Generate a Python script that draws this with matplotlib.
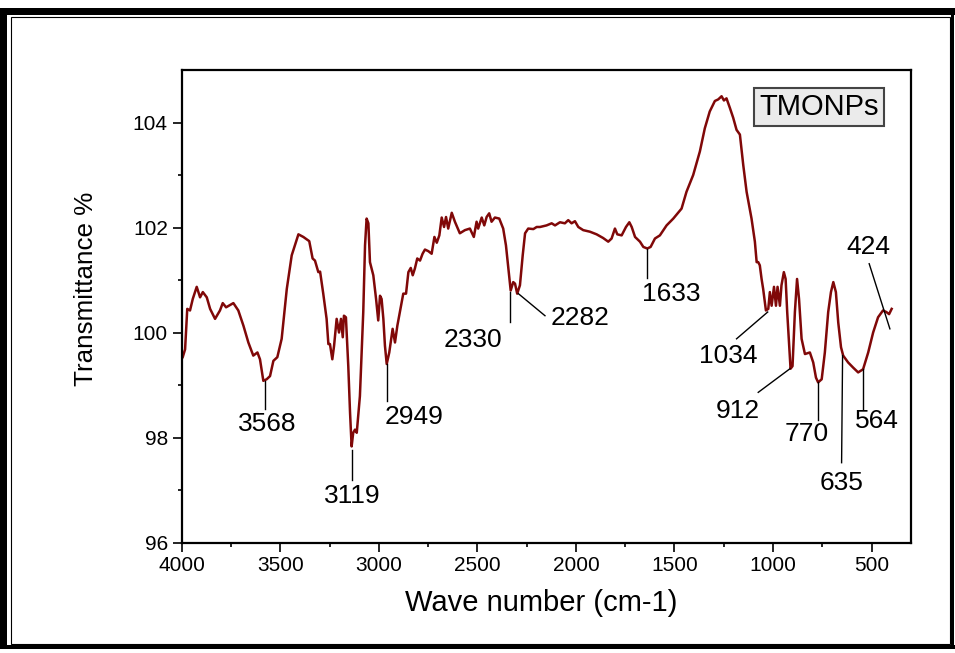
import matplotlib.pyplot as plt
from matplotlib.patches import Rectangle

plt.rcParams['font.family'] = ['Liberation Sans', 'DejaVu Sans']

# FTIR spectrum
wavenumber = [4000, 3995, 3983, 3972, 3958, 3944, 3924, 3907, 3893, 3873, 3856,
              3831, 3806, 3792, 3775, 3738, 3713, 3687, 3662, 3637, 3616, 3603,
              3586, 3569, 3552, 3535, 3515, 3493, 3467, 3442, 3408, 3383, 3353,
              3336, 3324, 3307, 3298, 3282, 3265, 3256, 3248, 3236, 3227, 3214,
              3202, 3192, 3183, 3177, 3167, 3155, 3146, 3138, 3130, 3121, 3112,
              3096, 3079, 3070, 3062, 3053, 3045, 3028, 3014, 3003, 2994, 2986,
              2977, 2969, 2960, 2947, 2930, 2918, 2906, 2893, 2876, 2862, 2850,
              2838, 2828, 2817, 2805, 2791, 2778, 2766, 2749, 2732, 2718, 2706,
              2693, 2681, 2669, 2659, 2648, 2630, 2614, 2589, 2563, 2538, 2518,
              2504, 2496, 2478, 2465, 2453, 2440, 2428, 2411, 2389, 2369, 2355,
              2343, 2331, 2318, 2309, 2298, 2284, 2270, 2258, 2242, 2216, 2199,
              2182, 2149, 2123, 2106, 2081, 2056, 2039, 2022, 2005, 1988, 1963,
              1929, 1895, 1862, 1836, 1819, 1802, 1790, 1768, 1746, 1729, 1717,
              1700, 1675, 1658, 1638, 1621, 1599, 1574, 1540, 1506, 1464, 1439,
              1405, 1371, 1346, 1321, 1295, 1278, 1261, 1249, 1236, 1219, 1202,
              1185, 1168, 1151, 1134, 1109, 1092, 1083, 1075, 1067, 1058, 1050,
              1036, 1024, 1016, 1007, 995, 985, 977, 965, 957, 945, 936, 928,
              918, 911, 901, 889, 878, 868, 855, 838, 813, 796, 782, 771, 753,
              737, 720, 706, 694, 681, 669, 655, 644, 619, 593, 568, 543, 517,
              492, 467, 442, 425, 411, 398]
transmittance = [99.50, 99.53, 99.68, 100.45, 100.42, 100.64, 100.87, 100.67, 100.77,
                 100.67, 100.45, 100.26, 100.42, 100.56, 100.48, 100.56, 100.42,
                 100.13, 99.81, 99.56, 99.62, 99.49, 99.08, 99.11, 99.17, 99.46,
                 99.53, 99.88, 100.83, 101.47, 101.87, 101.82, 101.74, 101.41,
                 101.37, 101.15, 101.16, 100.74, 100.26, 99.78, 99.78, 99.49, 99.75,
                 100.26, 100.00, 100.26, 99.91, 100.32, 100.29, 99.36, 98.47, 97.83,
                 98.09, 98.15, 98.09, 98.79, 100.39, 101.66, 102.17, 102.08, 101.34,
                 101.09, 100.64, 100.23, 100.70, 100.64, 100.26, 99.75, 99.40, 99.62,
                 100.07, 99.81, 100.13, 100.39, 100.74, 100.74, 101.15, 101.23,
                 101.09, 101.22, 101.41, 101.37, 101.50, 101.58, 101.55, 101.50,
                 101.82, 101.71, 101.85, 102.19, 102.01, 102.20, 101.98, 102.28,
                 102.11, 101.89, 101.95, 101.98, 101.82, 102.11, 101.98, 102.19,
                 102.04, 102.20, 102.27, 102.11, 102.19, 102.17, 101.98, 101.66,
                 101.22, 100.80, 100.96, 100.93, 100.74, 100.90, 101.47, 101.89,
                 101.98, 101.97, 102.01, 102.01, 102.04, 102.08, 102.04, 102.10,
                 102.08, 102.14, 102.08, 102.12, 102.01, 101.95, 101.92, 101.87,
                 101.80, 101.73, 101.79, 101.98, 101.87, 101.85, 102.01, 102.10,
                 102.01, 101.82, 101.73, 101.63, 101.60, 101.63, 101.79, 101.85,
                 102.04, 102.17, 102.36, 102.68, 103.00, 103.45, 103.89, 104.21,
                 104.41, 104.44, 104.50, 104.42, 104.46, 104.28, 104.09, 103.86,
                 103.77, 103.19, 102.68, 102.17, 101.73, 101.34, 101.34, 101.28,
                 101.02, 100.83, 100.42, 100.45, 100.77, 100.51, 100.87, 100.51,
                 100.87, 100.51, 100.90, 101.15, 101.02, 100.39, 99.75, 99.31,
                 99.36, 100.39, 101.02, 100.64, 99.88, 99.59, 99.62, 99.43, 99.14,
                 99.05, 99.11, 99.62, 100.39, 100.77, 100.96, 100.77, 100.19, 99.72,
                 99.56, 99.43, 99.33, 99.24, 99.30, 99.62, 100.00, 100.29, 100.42,
                 100.39, 100.35, 100.45]

# peak labels
peak_labels = ['3568', '3119', '2949', '2330', '2282', '1633',
               '1034', '912', '770', '635', '564', '424']
# leader line (x0, y0, x1, y1) and text centre, in data units
leader_lines = [(3577, 99.08, 3577, 98.54), (3138, 97.77, 3138, 97.20),
                (2957, 99.40, 2957, 98.69), (2335, 100.77, 2335, 100.20),
                (2292, 100.74, 2157, 100.32), (1638, 101.60, 1638, 101.03),
                (1027, 100.39, 1185, 99.88), (914, 99.31, 1075, 98.86),
                (771, 99.05, 771, 98.34), (647, 99.56, 652, 97.52),
                (543, 99.30, 543, 98.54), (512, 101.31, 407, 100.07)]
text_pos = [(3566, 98.25), (3133, 96.88), (2820, 98.39), (2521, 99.86),
            (1980, 100.27), (1515, 100.74), (1227, 99.56), (1177, 98.50),
            (830, 98.06), (652, 97.13), (475, 98.31), (517, 101.63)]

fig = plt.figure(figsize=(9.55, 6.53), dpi=100)
ax = fig.add_axes([0.1903, 0.1692, 0.7636, 0.7236])

ax.plot(wavenumber, transmittance, color='#800808', lw=1.8)

for lab, (x0, y0, x1, y1), (tx, ty) in zip(peak_labels, leader_lines, text_pos):
    ax.plot([x0, x1], [y0, y1], color='black', lw=1.0)
    ax.text(tx, ty, lab, fontsize=19, ha='center', va='center')

ax.text(0.874, 0.922, 'TMONPs', transform=ax.transAxes, fontsize=21,
        ha='center', va='center',
        bbox=dict(boxstyle='square,pad=0.18', facecolor='#ebebeb',
                  edgecolor='#444444', lw=1.5))

ax.set_xlim(4000, 300)
ax.set_ylim(96, 105)
ax.set_xticks([4000, 3500, 3000, 2500, 2000, 1500, 1000, 500])
ax.set_xticks(range(3750, 300, -500), minor=True)
ax.set_yticks([96, 98, 100, 102, 104])
ax.set_yticks([97, 99, 101, 103], minor=True)
ax.tick_params(which='major', direction='out', length=6.5, width=1.2,
               labelsize=15, top=False, right=False)
ax.tick_params(which='minor', direction='out', length=3, width=1.2,
               top=False, right=False)
for s in ax.spines.values():
    s.set_linewidth(1.6)

ax.set_xlabel('Wave number (cm-1)', fontsize=21, va='center')
ax.xaxis.set_label_coords(0.4934, -0.128)
ax.set_ylabel('Transmittance %', fontsize=18.7, va='center')
ax.yaxis.set_label_coords(-0.131, 0.5365)

# picture frame round the figure
W, H = 955, 653
frame = [(0, 8, 7, 641), (0, 8, 955, 7), (0, 645, 955, 4), (951, 8, 3, 641)]
for x, y, w, h in frame:
    fig.add_artist(Rectangle((x / W, 1 - (y + h) / H), w / W, h / H,
                             transform=fig.transFigure, color='black', lw=0))
fig.add_artist(Rectangle((11 / W, 1 - 644 / H), 939 / W, 627 / H,
                         transform=fig.transFigure, fill=False,
                         edgecolor='black', lw=0.8))

fig.savefig('out.png', dpi=100)
